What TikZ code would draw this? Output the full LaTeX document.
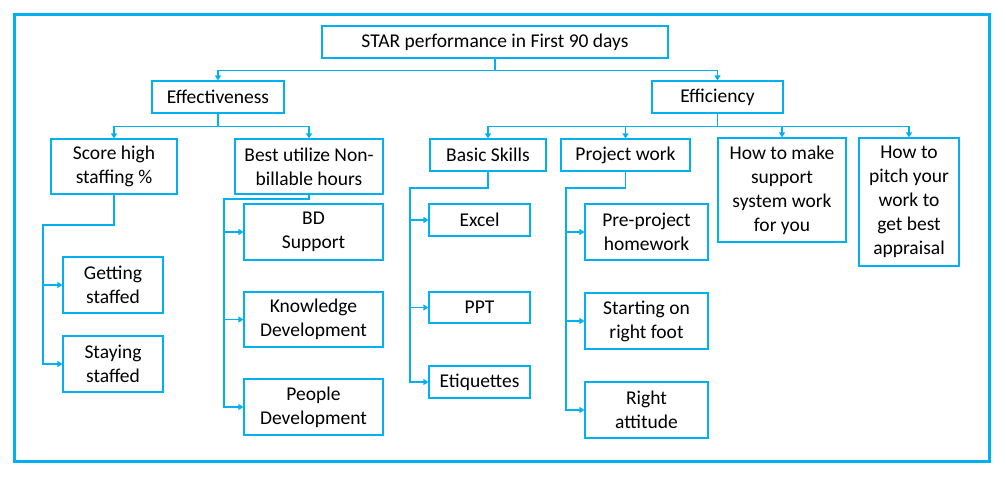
\documentclass[tikz,border=0pt]{standalone}
\usepackage{fontspec}
\setmainfont{Carlito}
\usetikzlibrary{positioning,arrows.meta}
\definecolor{starblue}{RGB}{0,176,240}

\tikzset{
    box/.style={draw=starblue, line width=1.2pt, align=center, inner sep=0pt,
        font=\fontsize{19.5}{24}\selectfont},
    conn/.style={draw=starblue, line width=1.3pt, -{Triangle[width=6pt,length=5pt]}},
}

\begin{document}
\begin{tikzpicture}[x=1pt,y=-1pt]
        \useasboundingbox (0,0) rectangle (1006,477);
        \draw[starblue, line width=3pt] (14,14) rectangle (989,461);

        % top levels
        \node[box, minimum width=346pt, minimum height=32pt] (root) at (495,42) {STAR performance in First 90 days};
        \node[box, minimum width=132pt, minimum height=32pt] (eff) at (218,97) {Effectiveness};
        \node[box, minimum width=131pt, minimum height=32pt] (effi) at (717.5,97) {Efficiency};

        \node[box, minimum width=126pt, minimum height=55pt] (score) at (114,166.5) {Score high\\staffing \%};
        \node[box, minimum width=148pt, minimum height=55pt] (best) at (309,166.5) {Best utilize Non-\\billable hours};
        \node[box, minimum width=116pt, minimum height=32pt] (basic) at (488,155) {Basic Skills};
        \node[box, minimum width=129pt, minimum height=32pt] (proj) at (625.5,155) {Project work};
        \node[box, minimum width=128pt, minimum height=104pt] (make) at (782,190) {How to make\\support\\system work\\for you};
        \node[box, minimum width=100pt, minimum height=128pt] (pitch) at (909,202) {How to\\pitch your\\work to\\get best\\appraisal};

        % leaves
        \node[box, minimum width=100pt, minimum height=56pt] (get) at (113,285) {Getting\\staffed};
        \node[box, minimum width=100pt, minimum height=56pt] (stay) at (113,364) {Staying\\staffed};
        \node[box, minimum width=139pt, minimum height=56pt] (bd) at (313.5,232) {BD\\Support};
        \node[box, minimum width=139pt, minimum height=55pt] (know) at (313.5,319.5) {Knowledge\\Development};
        \node[box, minimum width=139pt, minimum height=56pt] (people) at (313.5,407) {People\\Development};
        \node[box, minimum width=101pt, minimum height=32pt] (excel) at (479.5,220) {Excel};
        \node[box, minimum width=101pt, minimum height=31pt] (ppt) at (479.5,307.5) {PPT};
        \node[box, minimum width=101pt, minimum height=32pt] (etiq) at (479.5,382) {Etiquettes};
        \node[box, minimum width=123pt, minimum height=56pt] (pre) at (646.5,232) {Pre-project\\homework};
        \node[box, minimum width=123pt, minimum height=56pt] (start) at (646.5,321) {Starting on\\right foot};
        \node[box, minimum width=123pt, minimum height=56pt] (right) at (646.5,410) {Right\\attitude};

        % connectors
        \draw[conn] (root.south) -- ++(0,12) -| (eff.north);
        \draw[conn] (root.south) -- ++(0,12) -| (effi.north);

        \draw[conn] (eff.south) -- ++(0,13) -| (score.north);
        \draw[conn] (eff.south) -- ++(0,13) -| (best.north);

        \draw[conn] (effi.south) -- ++(0,13) -| (basic.north);
        \draw[conn] (effi.south) -- ++(0,13) -| (proj.north);
        \draw[conn] (effi.south) -- ++(0,13) -| (make.north);
        \draw[conn] (effi.south) -- ++(0,13) -| (pitch.north);

        \coordinate (sbus) at (43,225);
        \draw[conn] (score.south) |- (sbus) |- (get.west);
        \draw[conn] (sbus) |- (stay.west);

        \coordinate (bbus) at (224,199);
        \draw[conn] (best.south) |- (bbus) |- (bd.west);
        \draw[conn] (bbus) |- (know.west);
        \draw[conn] (bbus) |- (people.west);

        \coordinate (kbus) at (410,188);
        \draw[conn] (basic.south) |- (kbus) |- (excel.west);
        \draw[conn] (kbus) |- (ppt.west);
        \draw[conn] (kbus) |- (etiq.west);

        \coordinate (pbus) at (566,188);
        \draw[conn] (proj.south) |- (pbus) |- (pre.west);
        \draw[conn] (pbus) |- (start.west);
        \draw[conn] (pbus) |- (right.west);
    \end{tikzpicture}
\end{document}
